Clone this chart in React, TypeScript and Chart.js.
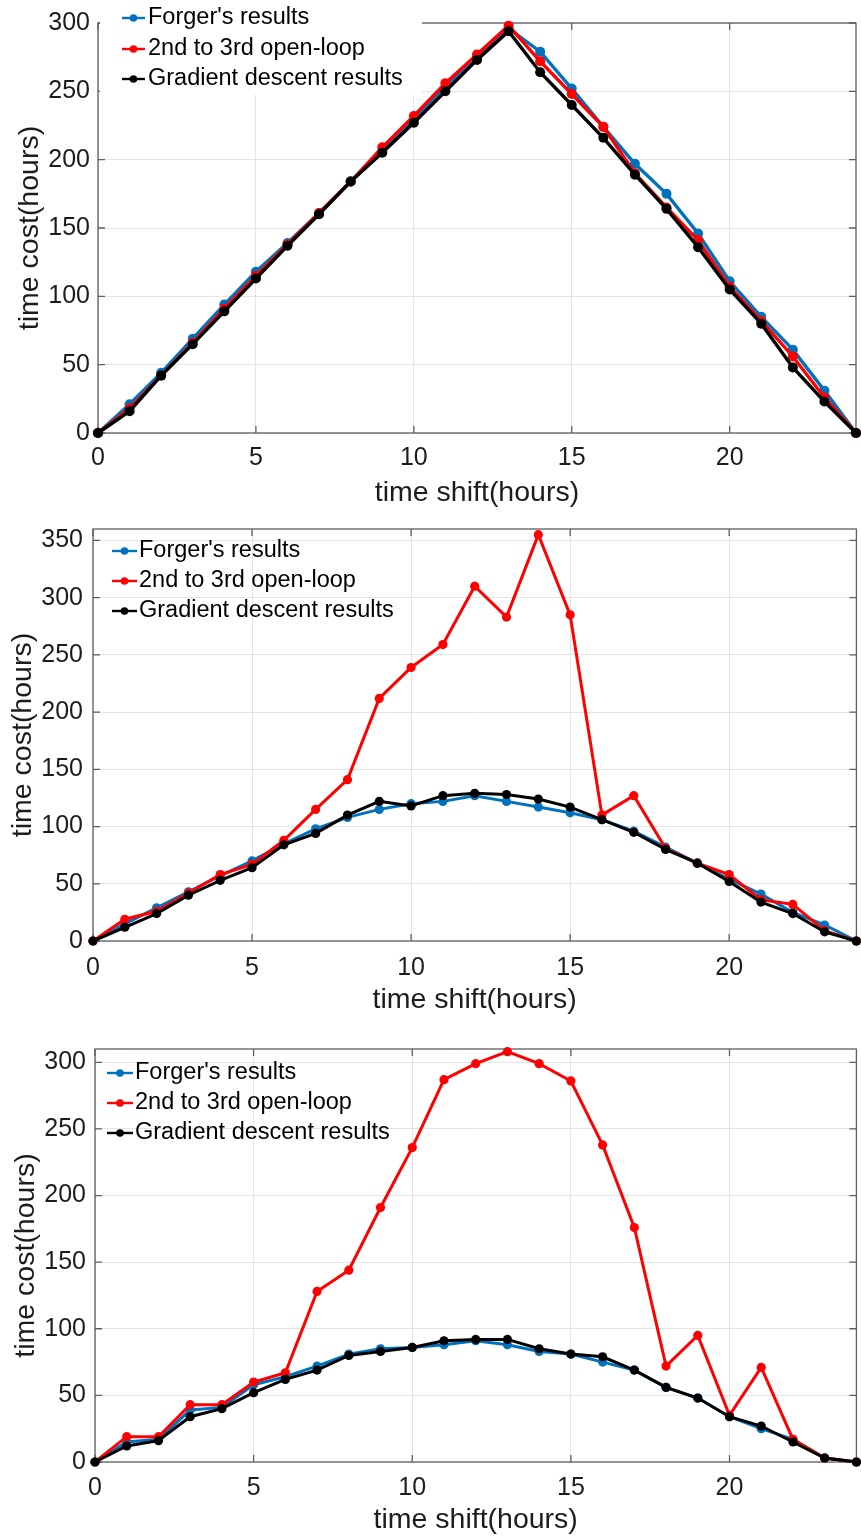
import React, { useEffect, useRef } from "react";
import { Chart, registerables } from "chart.js";

Chart.register(...registerables);

// ---------- data ----------
const timeShift = [0, 1, 2, 3, 4, 5, 6, 7, 8, 9, 10, 11, 12, 13, 14, 15, 16, 17, 18, 19, 20, 21, 22, 23, 24];
const xTickValues = [0, 5, 10, 15, 20];

const legendLabels = ["Forger's results", "2nd to 3rd open-loop", "Gradient descent results"];

// panel 1
const forger1 = [0, 21, 44, 69, 94, 118, 139, 161, 184, 206, 229, 253, 274, 296, 279, 252, 224, 197, 175, 146, 111, 85, 61, 31, 0];
const openLoop1 = [0, 18, 42, 66, 91, 115, 138, 161, 184, 209, 232, 256, 277, 298, 272, 248, 224, 190, 165, 141, 107, 82, 56, 26, 0];
const gradient1 = [0, 16, 42, 65, 89, 113, 137, 160, 184, 205, 227, 250, 273, 294, 264, 240, 216, 189, 164, 136, 105, 80, 48, 23, 0];
const yTicks1 = [0, 50, 100, 150, 200, 250, 300];

// panel 2
const forger2 = [0, 15, 29, 43, 57, 70, 85, 98, 108, 115, 120, 122, 127, 122, 117, 112, 106, 96, 82, 68, 54, 41, 25, 14, 0];
const openLoop2 = [0, 19, 26, 42, 58, 67, 88, 115, 141, 212, 239, 259, 310, 283, 355, 285, 110, 127, 81, 68, 58, 36, 32, 9, 0];
const gradient2 = [0, 12, 24, 40, 53, 64, 84, 94, 110, 122, 118, 127, 129, 128, 124, 117, 106, 95, 80, 68, 52, 34, 24, 8, 0];
const yTicks2 = [0, 50, 100, 150, 200, 250, 300, 350];

// panel 3
const forger3 = [0, 15, 17, 39, 41, 58, 64, 72, 81, 85, 86, 88, 91, 88, 83, 81, 75, 69, 56, 48, 34, 25, 17, 3, 0];
const openLoop3 = [0, 19, 19, 43, 43, 60, 67, 128, 144, 191, 236, 287, 299, 308, 299, 286, 238, 176, 72, 95, 35, 71, 17, 3, 0];
const gradient3 = [0, 12, 16, 34, 40, 52, 62, 69, 80, 83, 86, 91, 92, 92, 85, 81, 79, 69, 56, 48, 34, 27, 15, 3, 0];
const yTicks3 = [0, 50, 100, 150, 200, 250, 300];

// ---------- style ----------
const FONT = "'Liberation Sans', Arial, Helvetica, sans-serif";
const TEXT = "#1c1c1c";
const AXIS = "#5e5e5e";
const GRID = "#e4e4e4";
const BLUE = "#0072BD";
const RED = "#FF0000";
const BLACK = "#000000";
const seriesColors = [BLUE, RED, BLACK];
const TICK_LEN = 7;

type Box = { x: number; y: number; w: number; h: number } | null;

type PanelSpec = {
  top: number;
  height: number;
  padTop: number;
  yAxisWidth: number;
  xAxisHeight: number;
  yMax: number;
  yTicks: number[];
  forger: number[];
  openLoop: number[];
  gradient: number[];
  yTitlePad: number;
  yTickPad: number;
  xTickPad: number;
  xTitlePad: number;
  legendRows: number[];
  legendLine: [number, number];
  legendTextX: number;
  legendBox: Box;
  lineWidth: number;
  pointRadius: number;
};

const panels: PanelSpec[] = [
  {
    top: 0, height: 512, padTop: 15, yAxisWidth: 98, xAxisHeight: 79,
    yMax: 300, yTicks: yTicks1, forger: forger1, openLoop: openLoop1, gradient: gradient1,
    yTitlePad: 13, yTickPad: 8, xTickPad: 10.5, xTitlePad: 2,
    legendRows: [18, 49, 79], legendLine: [122, 145], legendTextX: 148,
    legendBox: { x: 100, y: 0, w: 322, h: 95 },
    lineWidth: 3.4, pointRadius: 5,
  },
  {
    top: 504, height: 513, padTop: 15, yAxisWidth: 93, xAxisHeight: 76,
    yMax: 360, yTicks: yTicks2, forger: forger2, openLoop: openLoop2, gradient: gradient2,
    yTitlePad: 6, yTickPad: 10, xTickPad: 12, xTitlePad: 0,
    legendRows: [47, 77, 107], legendLine: [112, 137], legendTextX: 139,
    legendBox: null,
    lineWidth: 3, pointRadius: 4.6,
  },
  {
    top: 1025, height: 512, padTop: 17, yAxisWidth: 95, xAxisHeight: 75,
    yMax: 310, yTicks: yTicks3, forger: forger3, openLoop: openLoop3, gradient: gradient3,
    yTitlePad: 9, yTickPad: 9, xTickPad: 11, xTitlePad: 0,
    legendRows: [48, 78, 108], legendLine: [107, 133], legendTextX: 135,
    legendBox: null,
    lineWidth: 3, pointRadius: 4.6,
  },
];

const toPoints = (ys: number[]) => timeShift.map((x, i) => ({ x, y: ys[i] }));

const framePlugin = {
  id: "matlabFrame",
  beforeDatasetsDraw(chart: any) {
    const { ctx, chartArea } = chart;
    const { left, top, right, bottom } = chartArea;
    const xs = chart.scales.x;
    const ys = chart.scales.y;
    ctx.save();
    ctx.strokeStyle = AXIS;
    ctx.lineWidth = 1.3;
    ctx.beginPath();
    xs.ticks.forEach((t: any) => {
      const px = xs.getPixelForValue(t.value);
      ctx.moveTo(px, bottom);
      ctx.lineTo(px, bottom - TICK_LEN);
      ctx.moveTo(px, top);
      ctx.lineTo(px, top + TICK_LEN);
    });
    ys.ticks.forEach((t: any) => {
      const py = ys.getPixelForValue(t.value);
      ctx.moveTo(left, py);
      ctx.lineTo(left + TICK_LEN, py);
      ctx.moveTo(right, py);
      ctx.lineTo(right - TICK_LEN, py);
    });
    ctx.stroke();
    ctx.strokeRect(left, top, right - left, bottom - top);
    ctx.restore();
  },
  afterDatasetsDraw(chart: any, _args: any, opts: any) {
    const { ctx } = chart;
    const spec: PanelSpec = opts.spec;
    ctx.save();
    if (spec.legendBox) {
      ctx.fillStyle = "#ffffff";
      ctx.fillRect(spec.legendBox.x, spec.legendBox.y, spec.legendBox.w, spec.legendBox.h);
    }
    ctx.font = `23.5px ${FONT}`;
    ctx.textBaseline = "middle";
    ctx.textAlign = "left";
    legendLabels.forEach((label, i) => {
      const y = spec.legendRows[i];
      const [x0, x1] = spec.legendLine;
      ctx.strokeStyle = seriesColors[i];
      ctx.fillStyle = seriesColors[i];
      ctx.lineWidth = 2.4;
      ctx.beginPath();
      ctx.moveTo(x0, y);
      ctx.lineTo(x1, y);
      ctx.stroke();
      ctx.beginPath();
      ctx.arc((x0 + x1) / 2, y, 3.8, 0, Math.PI * 2);
      ctx.fill();
      ctx.fillStyle = "#000000";
      ctx.fillText(label, spec.legendTextX, y);
    });
    ctx.restore();
  },
};

function Panel({ spec }: { spec: PanelSpec }) {
  const ref = useRef<HTMLCanvasElement | null>(null);

  useEffect(() => {
    if (!ref.current) return;
    const common = {
      borderWidth: spec.lineWidth,
      pointRadius: spec.pointRadius,
      pointBorderWidth: 0,
      tension: 0,
      clip: false as any,
    };
    const chart = new Chart(ref.current, {
      type: "line",
      data: {
        datasets: [
          { label: legendLabels[2], data: toPoints(spec.gradient), borderColor: BLACK, backgroundColor: BLACK, pointBackgroundColor: BLACK, order: 0, ...common },
          { label: legendLabels[1], data: toPoints(spec.openLoop), borderColor: RED, backgroundColor: RED, pointBackgroundColor: RED, order: 1, ...common },
          { label: legendLabels[0], data: toPoints(spec.forger), borderColor: BLUE, backgroundColor: BLUE, pointBackgroundColor: BLUE, order: 2, ...common },
        ],
      },
      options: {
        responsive: false,
        maintainAspectRatio: false,
        animation: false,
        events: [],
        layout: { padding: { top: spec.padTop, right: 1, left: 0, bottom: 0 } },
        plugins: {
          legend: { display: false },
          tooltip: { enabled: false },
          matlabFrame: { spec },
        } as any,
        scales: {
          x: {
            type: "linear",
            min: 0,
            max: 24,
            afterBuildTicks: (s: any) => {
              s.ticks = xTickValues.map((v) => ({ value: v }));
            },
            afterFit: (s: any) => {
              s.height = spec.xAxisHeight;
            },
            grid: { color: GRID, lineWidth: 1, drawTicks: false },
            border: { display: false },
            ticks: {
              font: { family: FONT, size: 25 },
              color: TEXT,
              padding: spec.xTickPad,
              maxRotation: 0,
              autoSkip: false,
            },
            title: {
              display: true,
              text: "time shift(hours)",
              font: { family: FONT, size: 28.5 },
              color: TEXT,
              padding: { top: 0, bottom: spec.xTitlePad },
            },
          },
          y: {
            type: "linear",
            min: 0,
            max: spec.yMax,
            afterBuildTicks: (s: any) => {
              s.ticks = spec.yTicks.map((v) => ({ value: v }));
            },
            afterFit: (s: any) => {
              s.width = spec.yAxisWidth;
            },
            grid: { color: GRID, lineWidth: 1, drawTicks: false },
            border: { display: false },
            ticks: {
              font: { family: FONT, size: 25 },
              color: TEXT,
              padding: spec.yTickPad,
              autoSkip: false,
            },
            title: {
              display: true,
              text: "time cost(hours)",
              font: { family: FONT, size: 28.5 },
              color: TEXT,
              padding: { top: spec.yTitlePad, bottom: 0 },
            },
          },
        },
      },
      plugins: [framePlugin as any],
    });
    return () => chart.destroy();
  }, [spec]);

  return (
    <div style={{ position: "absolute", left: 0, top: spec.top, width: 861, height: spec.height }}>
      <canvas ref={ref} width={861} height={spec.height} style={{ display: "block", width: 861, height: spec.height }} />
    </div>
  );
}

export default function App() {
  return (
    <div style={{ position: "absolute", left: 0, top: 0, width: 861, height: 1537, background: "#ffffff", overflow: "hidden" }}>
      {panels.map((p, i) => (
        <Panel key={i} spec={p} />
      ))}
    </div>
  );
}
